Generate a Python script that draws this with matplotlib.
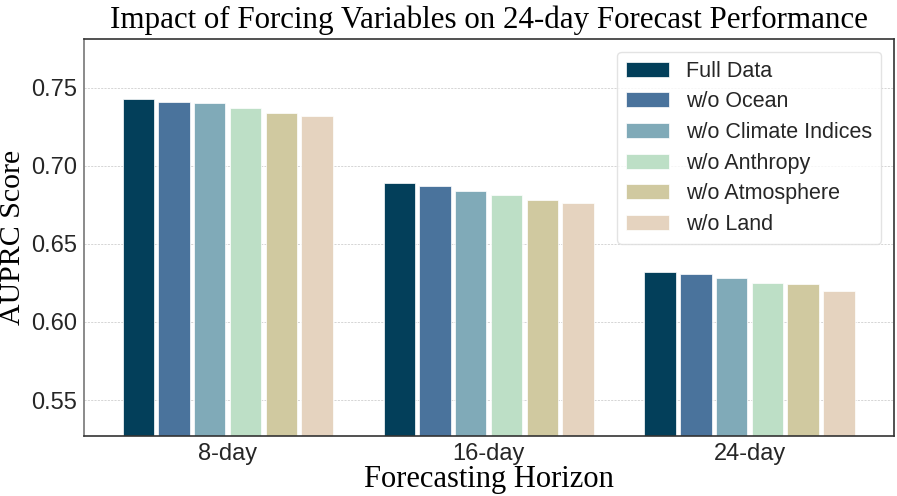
import numpy as np
import matplotlib
matplotlib.use("Agg")
import matplotlib.pyplot as plt

horizons = ['8-day', '16-day', '24-day']
variants = ['Full Data', 'w/o Ocean', 'w/o Climate Indices',
            'w/o Anthropy', 'w/o Atmosphere', 'w/o Land']
scores = [
    [0.743, 0.689, 0.632],   # Full Data
    [0.741, 0.687, 0.631],   # w/o Ocean
    [0.740, 0.684, 0.628],   # w/o Climate Indices
    [0.737, 0.681, 0.625],   # w/o Anthropy
    [0.734, 0.678, 0.624],   # w/o Atmosphere
    [0.732, 0.676, 0.620],   # w/o Land
]
colors = ['#033f5a', '#4a739c', '#80aab8', '#bddfc6', '#d0c9a0', '#e5d3bf']

serif = ['Liberation Serif', 'DejaVu Serif']
sans = ['Liberation Sans', 'DejaVu Sans']

fig = plt.figure(figsize=(8.97, 4.96), dpi=100)
ax = fig.add_axes([0.0936, 0.121, 0.9031, 0.8])

x = np.arange(len(horizons))
step = 0.137
for i, (name, vals) in enumerate(zip(variants, scores)):
    ax.bar(x + (i - 2.5) * step, vals, 0.12, color=colors[i], label=name,
           edgecolor='white', linewidth=0.5)

ax.set_xlim(-0.551, 2.554)
ax.set_ylim(0.527, 0.781)
ax.set_yticks([0.55, 0.60, 0.65, 0.70, 0.75])
ax.set_xticks(x)
ax.set_xticklabels(horizons)
ax.tick_params(length=0, pad=5, labelsize=17, colors='#262626')
for lab in ax.get_xticklabels() + ax.get_yticklabels():
    lab.set_family(sans)

ax.set_axisbelow(True)
ax.yaxis.grid(True, linestyle=(0, (2.5, 1.5)), color='#cfcfcf', linewidth=0.6)
for s in ax.spines.values():
    s.set_color('#333333')
    s.set_linewidth(1.2)
ax.spines['left'].set_color('#777777')

ax.set_title('Impact of Forcing Variables on 24-day Forecast Performance',
             family=serif, fontsize=22.3, pad=8)
ax.set_xlabel('Forecasting Horizon', family=serif, fontsize=22, labelpad=0)
ax.set_ylabel('AUPRC Score', family=serif, fontsize=21.5)
ax.yaxis.set_label_coords(-0.071, 0.5)

leg = ax.legend(loc='upper right', prop={'family': sans, 'size': 15.5},
                frameon=True, fancybox=True, edgecolor='#dddddd',
                labelspacing=0.45, borderaxespad=0.6)
for t in leg.get_texts():
    t.set_color('#262626')

fig.savefig('out.png', dpi=100)
